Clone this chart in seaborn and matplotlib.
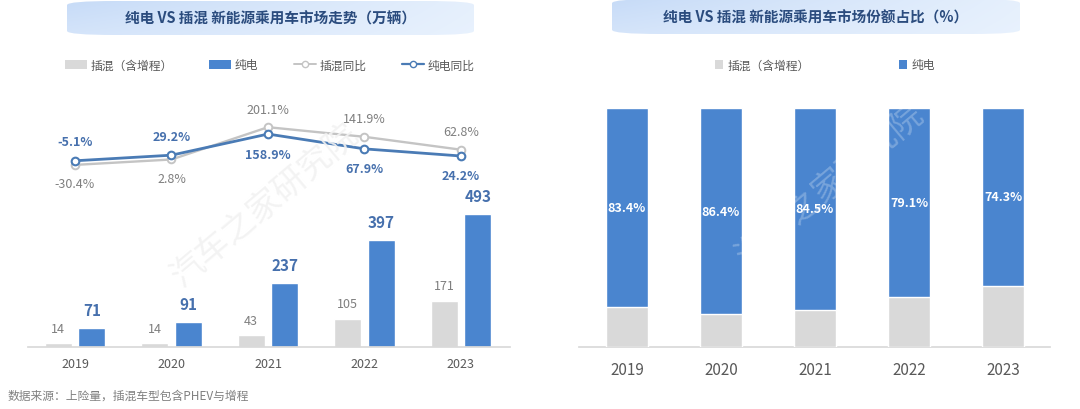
import numpy as np
import pandas as pd
import matplotlib
matplotlib.use("Agg")
import matplotlib.pyplot as plt
from matplotlib.patches import FancyBboxPatch, Patch
from matplotlib.lines import Line2D
import seaborn as sns

# ---------------- data ----------------
years = ['2019', '2020', '2021', '2022', '2023']
phev = [14, 14, 43, 105, 171]            # 插混（含增程）, 万辆
bev = [71, 91, 237, 397, 493]            # 纯电, 万辆
phev_yoy = [-30.4, 2.8, 201.1, 141.9, 62.8]
bev_yoy = [-5.1, 29.2, 158.9, 67.9, 24.2]
bev_share = [83.4, 86.4, 84.5, 79.1, 74.3]
phev_share = [16.6, 13.6, 15.5, 20.9, 25.7]

lbl_phev = '插混（含增程）'
lbl_bev = '纯电'
lbl_phev_yoy = '插混同比'
lbl_bev_yoy = '纯电同比'
title_left = '纯电 VS 插混 新能源乘用车市场走势（万辆）'
title_right = '纯电 VS 插混 新能源乘用车市场份额占比（%）'
footnote = '数据来源：上险量，插混车型包含PHEV与增程'
watermark = '汽车之家研究院'

# ---------------- style ----------------
sns.set_theme(style='white')
plt.rcParams['font.family'] = ['Noto Sans CJK SC', 'DejaVu Sans']
plt.rcParams['axes.unicode_minus'] = False

BLUE = '#4a85cf'
GRAY = '#d9d9d9'
LINE_BLUE = '#4a7bb5'
LINE_GRAY = '#c4c4c4'
TXT_BLUE = '#4670ad'
TXT_GRAY = '#7f7f7f'
TICK = '#595959'
TITLE = '#2b4c7e'

W, H = 1080, 410
fig = plt.figure(figsize=(W / 100, H / 100), dpi=100)


def fx(px):
    return px / W


def fy(py):
    return 1 - py / H


def title_box(x0, y0, x1, y1, text):
    bax = fig.add_axes([fx(x0), fy(y1), fx(x1 - x0), (y1 - y0) / H])
    bax.set_axis_off()
    n = 256
    t = np.linspace(0, 1, n)
    left = np.array([0.78, 0.86, 0.97])
    right = np.array([0.90, 0.94, 0.99])
    row = left[None, :] * (1 - t[:, None]) + right[None, :] * t[:, None]
    v = np.linspace(0, 1, 32)[:, None, None]
    img = row[None, :, :] * (1 - 0.35 * v) + 0.35 * v * np.array([0.93, 0.96, 1.0])
    im = bax.imshow(img, extent=[0, 1, 0, 1], aspect='auto', origin='upper')
    patch = FancyBboxPatch((0, 0), 1, 1, boxstyle='round,pad=0,rounding_size=0.12',
                           transform=bax.transAxes, facecolor='none', edgecolor='none')
    bax.add_patch(patch)
    im.set_clip_path(patch)
    bax.set_xlim(0, 1)
    bax.set_ylim(0, 1)
    bax.text(0.5, 0.5, text, ha='center', va='center', fontsize=10.5,
             fontweight='bold', color=TITLE, transform=bax.transAxes)


# ---------------- left chart ----------------
ax = fig.add_axes([fx(28), fy(348), fx(510 - 28), 248 / H])
df = pd.DataFrame({
    'year': years * 2,
    'type': [lbl_phev] * len(years) + [lbl_bev] * len(years),
    'value': phev + bev,
})
sns.barplot(data=df, x='year', y='value', hue='type', hue_order=[lbl_phev, lbl_bev],
            palette=[GRAY, BLUE], saturation=1, width=0.7, gap=0.2,
            errorbar=None, legend=False, ax=ax, zorder=2)
ax.set_ylim(0, 918)
ax.set_xlim(-0.487, 4.508)
ax.set_xlabel('')
ax.set_ylabel('')
ax.set_yticks([])
for s in ['left', 'right', 'top']:
    ax.spines[s].set_visible(False)
ax.spines['bottom'].set_color('#d9d9d9')
ax.tick_params(axis='x', length=0, pad=7, labelsize=9, labelcolor=TICK)

for i in range(len(years)):
    ax.annotate(str(phev[i]), (i - 0.175, phev[i]), xytext=(0, 15),
                textcoords='offset pixels', ha='center', va='center',
                fontsize=9, color=TXT_GRAY)
    ax.annotate(str(bev[i]), (i + 0.175, bev[i]), xytext=(0, 18),
                textcoords='offset pixels', ha='center', va='center',
                fontsize=11, fontweight='bold', color=TXT_BLUE)

ax2 = ax.twinx()
pos = np.arange(len(years))
sns.lineplot(x=pos, y=phev_yoy, ax=ax2, color=LINE_GRAY, linewidth=1.7,
             marker='o', markersize=5.5, markerfacecolor='white',
             markeredgecolor=LINE_GRAY, markeredgewidth=1.4, legend=False, zorder=3)
sns.lineplot(x=pos, y=bev_yoy, ax=ax2, color=LINE_BLUE, linewidth=2.0,
             marker='o', markersize=5.5, markerfacecolor='white',
             markeredgecolor=LINE_BLUE, markeredgewidth=1.5, legend=False, zorder=4)
ax2.set_ylim(-1148, 374)
ax2.set_yticks([])
ax2.set_ylabel('')
for s in ax2.spines.values():
    s.set_visible(False)

for i in range(len(years)):
    up_b = bev_yoy[i] > phev_yoy[i]
    ax2.annotate(f'{bev_yoy[i]:.1f}%', (i, bev_yoy[i]),
                 xytext=(0, 19 if up_b else -20), textcoords='offset pixels',
                 ha='center', va='center', fontsize=9, fontweight='bold', color=TXT_BLUE)
    ax2.annotate(f'{phev_yoy[i]:.1f}%', (i, phev_yoy[i]),
                 xytext=(0, -19 if up_b else 18), textcoords='offset pixels',
                 ha='center', va='center', fontsize=9, color=TXT_GRAY)

handles = [
    Patch(facecolor=GRAY, edgecolor='none', label=lbl_phev),
    Patch(facecolor=BLUE, edgecolor='none', label=lbl_bev),
    Line2D([], [], color=LINE_GRAY, lw=1.4, marker='o', markersize=4.5,
           markerfacecolor='white', markeredgecolor=LINE_GRAY, label=lbl_phev_yoy),
    Line2D([], [], color=LINE_BLUE, lw=1.6, marker='o', markersize=4.5,
           markerfacecolor='white', markeredgecolor=LINE_BLUE, label=lbl_bev_yoy),
]
fig.legend(handles=handles, loc='center', bbox_to_anchor=(fx(270), fy(66)), ncol=4,
           frameon=False, fontsize=8.5, handlelength=1.9, handleheight=0.7,
           handletextpad=0.3, columnspacing=3.0, labelcolor='#595959')

title_box(67, 2, 474, 36, title_left)

# ---------------- right chart ----------------
axr = fig.add_axes([fx(579), fy(348), fx(1050 - 579), 239 / H])
totals = [p + b for p, b in zip(phev_share, bev_share)]
sns.barplot(x=years, y=totals, color=BLUE, saturation=1, width=0.447,
            errorbar=None, ax=axr, zorder=2)
sns.barplot(x=years, y=phev_share, color=GRAY, saturation=1, width=0.447,
            errorbar=None, ax=axr, zorder=3)
axr.set_ylim(0, 100)
axr.set_xlim(-0.51, 4.5)
axr.set_yticks([])
axr.set_xlabel('')
axr.set_ylabel('')
for s in ['left', 'right', 'top']:
    axr.spines[s].set_visible(False)
axr.spines['bottom'].set_color('#d9d9d9')
axr.tick_params(axis='x', length=0, pad=10, labelsize=11, labelcolor=TICK)
for i in range(len(years)):
    axr.text(i, phev_share[i] + bev_share[i] / 2, f'{bev_share[i]:.1f}%',
             ha='center', va='center', fontsize=9, fontweight='bold',
             color='white', zorder=5)

handles_r = [
    Patch(facecolor=GRAY, edgecolor='none', label=lbl_phev),
    Patch(facecolor=BLUE, edgecolor='none', label=lbl_bev),
]
fig.legend(handles=handles_r, loc='center', bbox_to_anchor=(fx(825), fy(66)), ncol=2,
           frameon=False, fontsize=8.5, handlelength=0.7, handleheight=0.7,
           handletextpad=0.4, columnspacing=7.5, labelcolor='#595959')

title_box(612, 0, 1020, 35, title_right)

# watermarks
fig.text(fx(265), fy(205), watermark, rotation=40, ha='center', va='center',
         fontsize=24, color='#f2f2f2', alpha=0.9, zorder=10)
fig.text(fx(830), fy(185), watermark, rotation=40, ha='center', va='center',
         fontsize=24, color='#ffffff', alpha=0.25, zorder=10)

# footnote
fig.text(fx(8), fy(396), footnote, ha='left', va='center', fontsize=8.5, color='#808080')

fig.savefig('out.png', dpi=100)
